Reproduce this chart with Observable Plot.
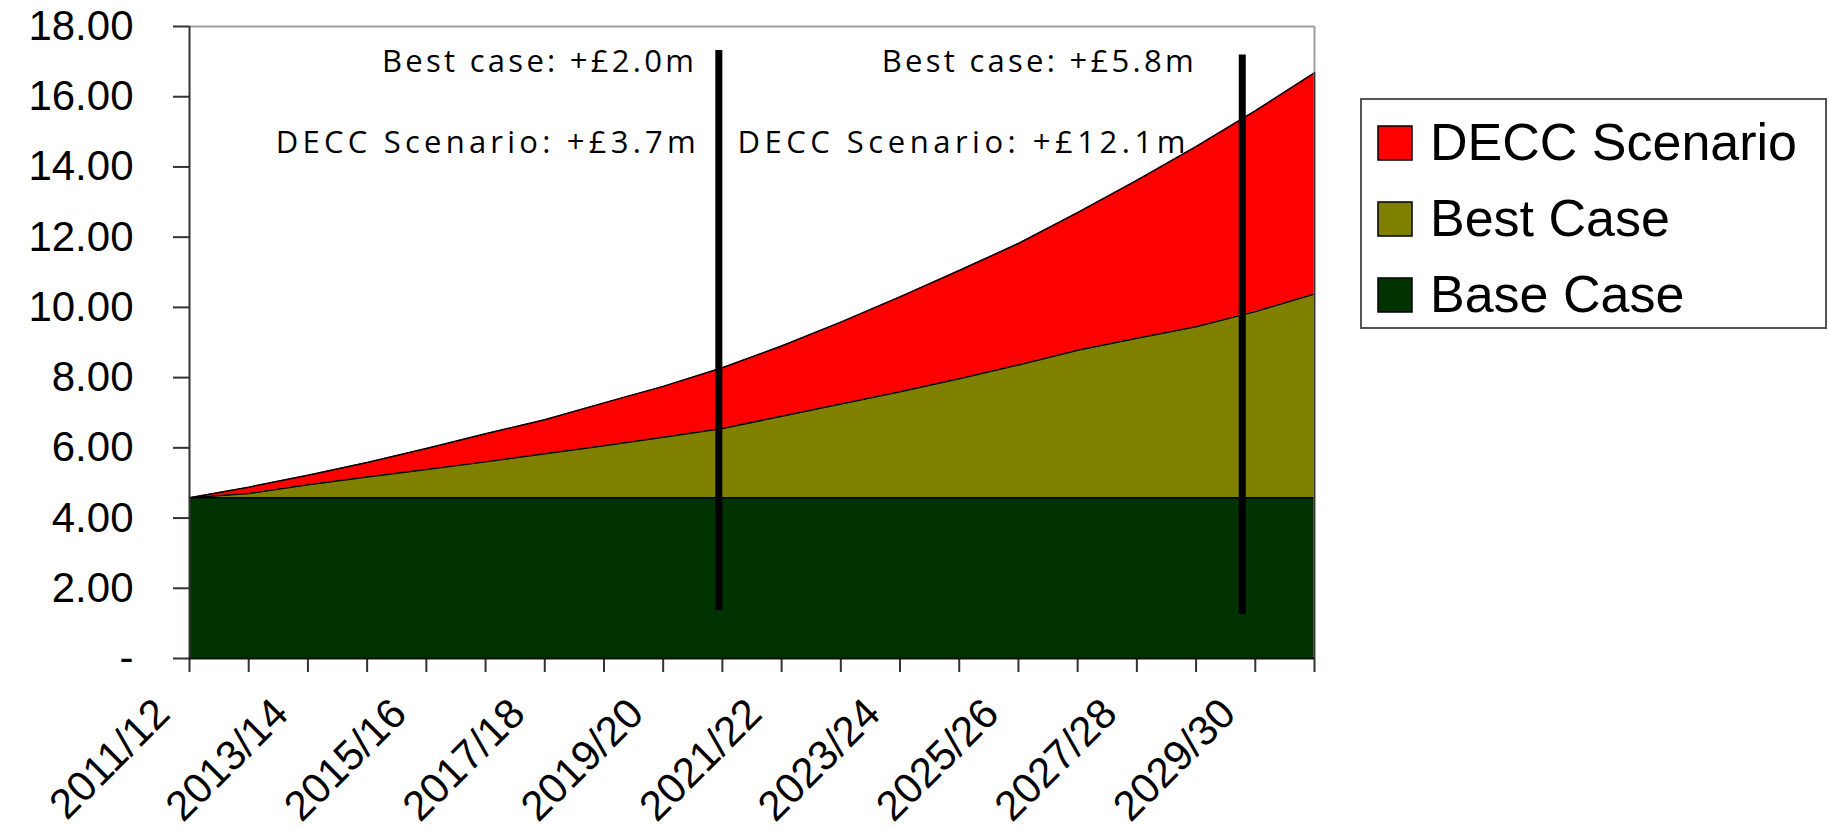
<!DOCTYPE html>
<html><head><meta charset="utf-8">
<script src="https://cdn.jsdelivr.net/npm/d3@7"></script>
<script src="https://cdn.jsdelivr.net/npm/@observablehq/plot@0.6"></script>
<style>
body{margin:0;background:#fff;}
#wrap{position:relative;width:1829px;height:829px;overflow:hidden;}
</style></head><body><div id="wrap"></div>
<script>
// ---- data ----
const years = ["2011/12","2012/13","2013/14","2014/15","2015/16","2016/17","2017/18","2018/19","2019/20","2020/21",
               "2021/22","2022/23","2023/24","2024/25","2025/26","2026/27","2027/28","2028/29","2029/30","2030/31"];
const baseCase     = [4.58,4.58,4.58,4.58,4.58,4.58,4.58,4.58,4.58,4.58,4.58,4.58,4.58,4.58,4.58,4.58,4.58,4.58,4.58,4.58];
const bestCaseTop  = [4.58,4.70,4.95,5.17,5.38,5.60,5.83,6.06,6.30,6.55,6.90,7.25,7.60,7.97,8.36,8.78,9.12,9.45,9.88,10.38];
const deccTop      = [4.58,4.88,5.22,5.58,5.98,6.40,6.80,7.28,7.75,8.28,8.90,9.58,10.30,11.05,11.82,12.70,13.62,14.58,15.60,16.68];
const seriesNames  = ["DECC Scenario","Best Case","Base Case"];
const seriesColors = ["#ff0000","#808000","#003300"];
const yTicks = [0,2,4,6,8,10,12,14,16,18];
const markerX      = [8.94, 17.78];
const markerBottom = [1.37, 1.25];
const markerTop    = [17.32, 17.19];
const annotText = ["Best case: +£2.0m","DECC Scenario: +£3.7m","Best case: +£5.8m","DECC Scenario: +£12.1m"];
const annotX    = [8.52, 8.55, 16.96, 16.82];
const annotY    = [17.34, 15.01, 17.34, 15.01];

// ---- tables ----
const rows = years.map((y, i) => ({i, year: y, base: baseCase[i], best: bestCaseTop[i], decc: deccTop[i]}));
const markers = markerX.map((x, i) => ({x, y1: markerBottom[i], y2: markerTop[i]}));
const annots = annotText.map((t, i) => ({t, x: annotX[i], y: annotY[i]}));
const tickIdx = d3.range(years.length);
const labelIdx = d3.range(0, years.length, 2);
const last = years.length - 1;

const chart = Plot.plot({
  width: 1829, height: 829,
  marginLeft: 189, marginRight: 515, marginTop: 26, marginBottom: 171,
  x: {type: "linear", domain: [0, last], axis: null},
  y: {domain: [0, yTicks[yTicks.length - 1]], axis: null},
  style: {fontFamily: "'Liberation Sans', Arial, sans-serif", color: "#000", background: "#fff", overflow: "visible"},
  marks: [
    Plot.areaY(rows, {x: "i", y1: 0, y2: "base", fill: seriesColors[2]}),
    Plot.areaY(rows, {x: "i", y1: "base", y2: "best", fill: seriesColors[1]}),
    Plot.areaY(rows, {x: "i", y1: "best", y2: "decc", fill: seriesColors[0]}),
    Plot.lineY(rows, {x: "i", y: "base", stroke: "#000", strokeWidth: 1.5}),
    Plot.lineY(rows, {x: "i", y: "best", stroke: "#000", strokeWidth: 1.5}),
    Plot.lineY(rows, {x: "i", y: "decc", stroke: "#000", strokeWidth: 1.5}),
    Plot.ruleY([yTicks[yTicks.length - 1]], {stroke: "#a0a0a0", strokeWidth: 2}),
    Plot.ruleX([last], {stroke: "#a0a0a0", strokeWidth: 2}),
    Plot.ruleX([last], {y1: 0, y2: deccTop[last], stroke: "#333", strokeWidth: 1.5}),
    Plot.axisY({ticks: yTicks, tickFormat: d => d === 0 ? "-" : d.toFixed(2), tickSize: 16, tickPadding: 40,
                fontSize: 42, stroke: "#333", strokeWidth: 2, label: null}),
    Plot.axisX({ticks: tickIdx, tickFormat: () => "", tickSize: 14, stroke: "#333", strokeWidth: 2, label: null}),
    Plot.ruleX([0], {stroke: "#333", strokeWidth: 2}),
    Plot.ruleY([0], {stroke: "#111", strokeWidth: 2}),
    Plot.text(labelIdx, {x: d => d, text: d => years[d], frameAnchor: "bottom", lineAnchor: "middle",
                         rotate: -45, textAnchor: "end", dx: -27, dy: 48, fontSize: 42, fill: "#000"}),
    Plot.ruleX(markers, {x: "x", y1: "y1", y2: "y2", stroke: "#000", strokeWidth: 7}),
    Plot.text(annots, {x: "x", y: "y", text: "t", textAnchor: "end", lineAnchor: "top",
                       fontFamily: "'Open Sans', sans-serif", fontSize: 31, fill: "#000"})
  ]
});
document.getElementById("wrap").appendChild(chart);

// stretch annotation texts to the reference widths
const annotWidths = {"Best case: +£2.0m": 312, "DECC Scenario: +£3.7m": 420, "Best case: +£5.8m": 312, "DECC Scenario: +£12.1m": 448};
d3.select(chart).selectAll("text").each(function () {
  const w = annotWidths[this.textContent];
  if (w) d3.select(this).attr("textLength", w).attr("lengthAdjust", "spacing");
});

// legend (separate overlay svg)
const leg = d3.select("#wrap").append("svg")
  .attr("width", 1829).attr("height", 829)
  .style("position", "absolute").style("left", "0px").style("top", "0px").style("pointer-events", "none");
leg.append("rect").attr("x", 1361).attr("y", 99).attr("width", 465).attr("height", 229)
  .attr("fill", "#fff").attr("stroke", "#555").attr("stroke-width", 2);
seriesNames.forEach((n, i) => {
  leg.append("rect").attr("x", 1378).attr("y", 126 + 76 * i).attr("width", 34).attr("height", 34)
    .attr("fill", seriesColors[i]).attr("stroke", "#000").attr("stroke-width", 1.5);
  leg.append("text").attr("x", 1430).attr("y", 160 + 76 * i)
    .attr("font-family", "'Liberation Sans', Arial, sans-serif").attr("font-size", 52).attr("fill", "#000")
    .text(n);
});
</script></body></html>
